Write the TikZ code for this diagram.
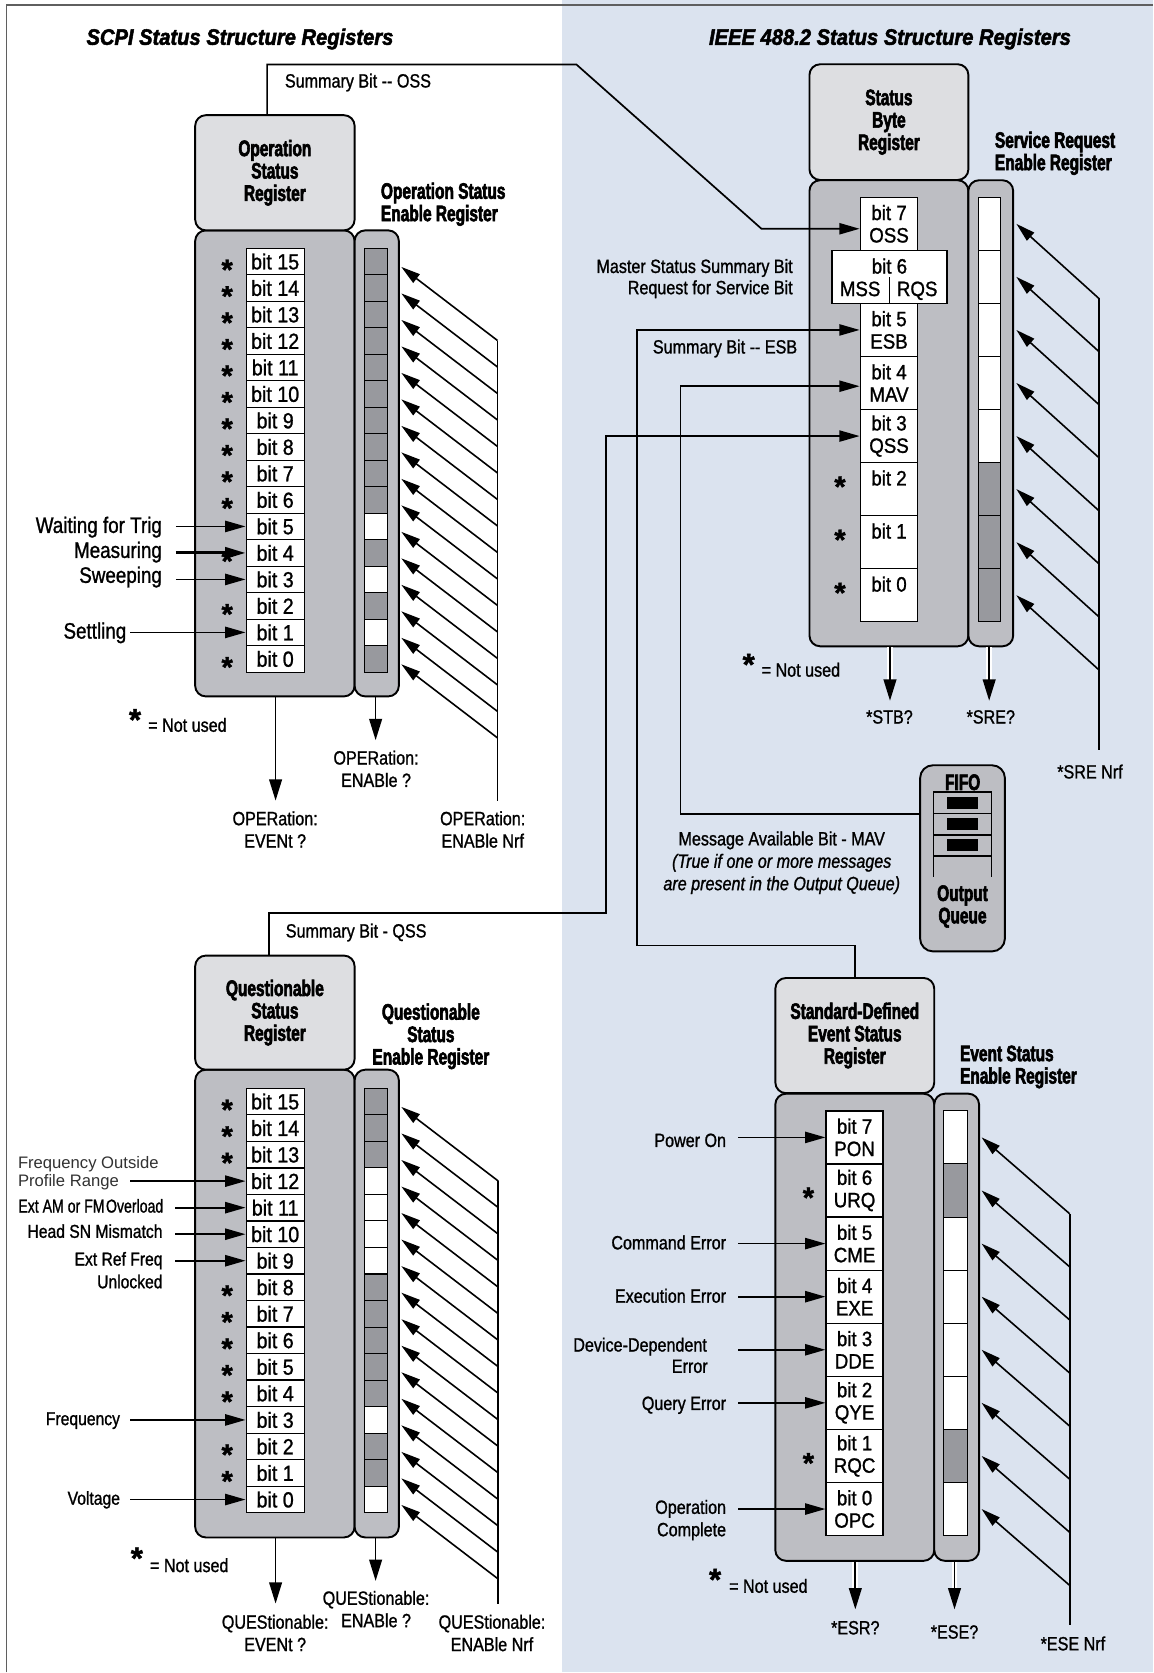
\documentclass[tikz,border=0pt]{standalone}
\usepackage{fontspec}
\usepackage{graphicx}
\setmainfont{Liberation Sans}
\newfontfamily\cndfont{Liberation Sans}[FakeStretch=0.84,FakeBold=1.1]
\newfontfamily\bitfnt{Liberation Sans}[FakeStretch=0.90,FakeBold=1.1]
\newfontfamily\hdrfont{Liberation Sans Bold}[FakeStretch=0.69,FakeBold=2.6]
\newfontfamily\ttlfont{Liberation Sans Bold Italic}[FakeStretch=0.90,FakeBold=2.2]
\newfontfamily\plainfnt{Liberation Sans}
\newfontfamily\starfnt{Liberation Sans Bold}[FakeBold=1.5]
\usetikzlibrary{arrows.meta,calc}
\definecolor{bgblue}{RGB}{219,227,239}
\definecolor{hdrgray}{RGB}{221,222,225}
\definecolor{bodygray}{RGB}{189,190,195}
\definecolor{cellgray}{RGB}{152,153,158}
\definecolor{framegray}{RGB}{95,95,95}
\definecolor{txtgray}{RGB}{50,50,50}
\newcommand\fntA{\cndfont\fontsize{21}{21}\selectfont}
\newcommand\fntB{\cndfont\fontsize{18}{21}\selectfont}
\newcommand\fntQ{\cndfont\fontsize{17.5}{21.3}\selectfont}
\newcommand\fntBitA{\bitfnt\fontsize{20.5}{21}\selectfont}
\newcommand\fntBitB{\bitfnt\fontsize{19.5}{21}\selectfont}
\newcommand\fntH{\hdrfont\fontsize{21}{21}\selectfont}
\newcommand\fntT{\ttlfont\fontsize{21}{21}\selectfont}
\newcommand\fntP{\plainfnt\fontsize{15.6}{17.3}\selectfont}
\newcommand\fntS{\starfnt\fontsize{27}{27}\selectfont}
\newcommand\fntSS{\starfnt\fontsize{29}{29}\selectfont}
\begin{document}
\begin{tikzpicture}[x=1pt,y=-1pt,
 ln/.style={line width=1.6pt},
 arr/.style={line width=1.6pt,-{Triangle[length=19pt,width=10.5pt]}},
 darr/.style={line width=1.5pt,-{Triangle[length=18pt,width=10pt]}},
 dnarr/.style={line width=1.6pt,-{Triangle[length=20pt,width=12pt]}},
 dnarrw/.style={dnarr,preaction={draw=white,line width=5.5pt,-,shorten >=14pt}},
 hdrbox/.style={draw,line width=1.8pt,fill=hdrgray,rounded corners=10pt,inner sep=0pt,font=\fntH,align=center},
 bodybox/.style={draw,line width=1.8pt,fill=bodygray,rounded corners=10pt,inner sep=0pt},
 bitA/.style={draw,line width=1.2pt,fill=white,inner sep=0pt,font=\fntBitA,text height=14.7pt,text depth=0pt,minimum width=54.4pt,minimum height=24.84pt},
 bitB/.style={draw,line width=1.2pt,fill=white,inner sep=0pt,font=\fntBitB,align=center,minimum width=54pt,minimum height=49.75pt},
 bitlbl/.style={inner sep=0pt,font=\fntBitB,text height=14pt,text depth=0pt},
 encell/.style={draw,line width=1pt,inner sep=0pt,minimum width=21.5pt},
 tA/.style={inner sep=0pt,font=\fntA,text height=15pt,text depth=0pt},
 tB/.style={inner sep=0pt,font=\fntB,text height=12.9pt,text depth=0pt},
 tQ/.style={inner sep=0pt,font=\fntQ,text height=12.5pt,text depth=0pt},
 mB/.style={inner sep=0pt,font=\fntB,align=center},
 mQ/.style={inner sep=0pt,font=\fntQ,align=right},
 mH/.style={inner sep=0pt,font=\fntH},
 ttl/.style={inner sep=0pt,font=\fntT,text height=15pt,text depth=0pt},
 starA/.style={inner sep=0pt,font=\fntS,yshift=-5.6pt},
 starB/.style={inner sep=0pt,font=\fntSS,yshift=-6pt},
]
% ---------- background ----------
\fill[white] (0,0) rectangle (1081,1568);
\fill[bgblue] (527,0) rectangle (1081,1568);
\draw[framegray,line width=1.4pt] (6.3,1568) -- (6.3,4.5) -- (1081,4.5);
\useasboundingbox (0,0) rectangle (1081,1568);

\node[ttl] (ttlL) at (225,34.5) {SCPI Status Structure Registers};
\node[ttl] (ttlR) at (834.5,34.5) {IEEE 488.2 Status Structure Registers};

% ================= OPERATION =================
\node[bodybox,minimum width=149.5pt,minimum height=437pt] (opBody) at (257.75,434.5) {};
\node[bodybox,minimum width=41.5pt,minimum height=437pt] (opEn) at (353.25,434.5) {};
\node[hdrbox,minimum width=149.5pt,minimum height=108pt] (opHdr) at (257.75,162) {Operation\\Status\\Register};
\node[mH,anchor=west,align=left] (opEnL) at (357,191.5) {Operation Status\\Enable Register};

\foreach \b in {0,...,15} {
  \pgfmathsetmacro\yc{232.8+(15.5-\b)*24.84}
  \node[bitA] (op\b) at (258,\yc) {bit \b};
}
\foreach \b/\c in {15/cellgray,14/cellgray,13/cellgray,12/cellgray,11/cellgray,10/cellgray,9/cellgray,8/cellgray,7/cellgray,6/cellgray,5/white,4/cellgray,3/white,2/cellgray,1/white,0/cellgray} {
  \pgfmathsetmacro\yc{232.8+(15.5-\b)*24.84}
  \node[encell,fill=\c,minimum height=24.84pt] (opE\b) at (352.5,\yc) {};
}
\foreach \b in {15,14,13,12,11,10,9,8,7,6,4,2,0} {
  \node[starA] (opS\b) at ($(op\b.center)+(-45,2)$) {*};
}
\foreach \b in {0,...,15} {
  \pgfmathsetmacro\yt{232.8+(15-\b)*24.84+17.5}
  \coordinate (opT\b) at (376.3,\yt);
  \coordinate (opD\b) at (466.5,\yt+69);
  \draw[darr] (opD\b) -- (opT\b);
}
\coordinate (opVb) at (466.5,750.7);
\draw[ln] (opD15) -- (opVb);
\node[mB] (opNrf) at (452.6,777.8) {OPERation:\\ENABle Nrf};

\coordinate (opEvt) at (258.4,750.7);
\draw[dnarr] (opEvt |- opBody.south) -- (opEvt);
\node[mB] (opEvtL) at (258,777.8) {OPERation:\\EVENt ?};
\coordinate (opEnq) at (352.2,694);
\draw[dnarr] (opEnq |- opEn.south) -- (opEnq);
\node[mB] (opEnqL) at (352.6,720.9) {OPERation:\\ENABle ?};

\node[starB] (opNUs) at (126.6,668.8) {*};
\node[tB,anchor=west] (opNU) at (138.8,679.7) {= Not used};

\coordinate (opxa) at (164.8,0);
\coordinate (opxc) at (122,0);
\node[tA,anchor=east] (wft) at (152,492.2) {Waiting for Trig};
\draw[arr] (opxa |- op5.west) -- (op5.west);
\node[tA,anchor=east] (meas) at (152,515.6) {Measuring};
\draw[arr,line width=2.8pt] (opxa |- op4.west) -- (op4.west);
\node[tA,anchor=east] (swp) at (152,539) {Sweeping};
\draw[arr] (opxa |- op3.west) -- (op3.west);
\node[tA,anchor=east] (sett) at (118.6,591.3) {Settling};
\draw[arr] (opxc |- op1.west) -- (op1.west);

% ================= QUESTIONABLE =================
\node[bodybox,minimum width=149.5pt,minimum height=438.6pt] (qBody) at (257.75,1222.3) {};
\node[bodybox,minimum width=41.5pt,minimum height=438.6pt] (qEn) at (353.25,1222.3) {};
\node[hdrbox,minimum width=149.5pt,minimum height=107pt] (qHdr) at (257.75,949.5) {Questionable\\Status\\Register};
\node[mH,align=center] (qEnL) at (404,971.7) {Questionable\\Status\\Enable Register};

\foreach \b in {0,...,15} {
  \pgfmathsetmacro\yc{1020.4+(15.5-\b)*24.88}
  \node[bitA,minimum height=24.88pt] (q\b) at (258,\yc) {bit \b};
}
\foreach \b/\c in {15/cellgray,14/cellgray,13/cellgray,12/white,11/white,10/white,9/white,8/cellgray,7/cellgray,6/cellgray,5/cellgray,4/cellgray,3/white,2/cellgray,1/cellgray,0/white} {
  \pgfmathsetmacro\yc{1020.4+(15.5-\b)*24.88}
  \node[encell,fill=\c,minimum height=24.88pt] (qE\b) at (352.5,\yc) {};
}
\foreach \b in {15,14,13,8,7,6,5,4,2,1} {
  \node[starA] (qS\b) at ($(q\b.center)+(-45,2)$) {*};
}
\foreach \b in {0,...,15} {
  \pgfmathsetmacro\yt{1020.4+(15-\b)*24.88+17.5}
  \coordinate (qT\b) at (376.3,\yt);
  \coordinate (qD\b) at (467.2,\yt+69.5);
  \draw[darr] (qD\b) -- (qT\b);
}
\coordinate (qVb) at (467.2,1503.6);
\draw[ln] (qD15) -- (qVb);
\node[mB] (qNrf) at (461.3,1531.2) {QUEStionable:\\ENABle Nrf};

\coordinate (qEvt) at (258.4,1503.6);
\draw[dnarr] (qEvt |- qBody.south) -- (qEvt);
\node[mB] (qEvtL) at (258,1531.2) {QUEStionable:\\EVENt ?};
\coordinate (qEnq) at (352.2,1482.3);
\draw[dnarr] (qEnq |- qEn.south) -- (qEnq);
\node[mB] (qEnqL) at (352.6,1508.8) {QUEStionable:\\ENABle ?};

\node[starB] (qNUs) at (128.3,1455) {*};
\node[tB,anchor=west] (qNU) at (140.5,1467.6) {= Not used};

\coordinate (qxa) at (164.5,0);
\coordinate (qxc) at (122,0);
\node[inner sep=0pt,font=\fntP,text=txtgray,align=left,anchor=west] (fop) at (16.7,1100.2) {Frequency Outside\\Profile Range};
\draw[arr] (qxc |- q12.west) -- (q12.west);
\node[tQ,anchor=east] (eam) at (153.3,1130.7) {\scalebox{0.9}[1]{Ext AM or FM\hspace{1.5pt}Overload}};
\draw[arr] (qxa |- q11.west) -- (q11.west);
\node[tQ,anchor=east] (hsn) at (152.6,1154.4) {Head SN Mismatch};
\draw[arr] (qxa |- q10.west) -- (q10.west);
\node[mQ,anchor=east] (erf) at (152.6,1191) {Ext Ref Freq\\Unlocked};
\draw[arr] (qxa |- q9.west) -- (q9.west);
\node[tQ,anchor=east] (frq) at (112.7,1330) {Frequency};
\draw[arr] (qxc |- q3.west) -- (q3.west);
\node[tQ,anchor=east] (vlt) at (112.7,1404.6) {Voltage};
\draw[arr] (qxc |- q0.west) -- (q0.west);

% ================= STATUS BYTE =================
\node[bodybox,minimum width=149pt,minimum height=437pt] (sbBody) at (833.5,387.5) {};
\node[bodybox,minimum width=42pt,minimum height=437pt] (sbEn) at (929,387.5) {};
\node[hdrbox,minimum width=149pt,minimum height=108.5pt] (sbHdr) at (833.5,114.5) {Status\\Byte\\Register};
\node[mH,anchor=west,align=left] (sbEnL) at (932.7,143.7) {Service Request\\Enable Register};

\foreach \b/\t in {7/OSS,5/ESB,4/MAV,3/QSS} {
  \pgfmathsetmacro\yc{185+(7.5-\b)*49.75}
  \node[bitB] (sb\b) at (833.6,\yc) {bit \b\\\t};
}
\foreach \b in {2,1,0} {
  \pgfmathsetmacro\yc{185+(7.5-\b)*49.75}
  \node[bitB] (sb\b) at (833.6,\yc) {bit \b\\\mbox{}};
}
\node[bitB,minimum width=108pt] (sb6) at (834,259.6) {};
\node[bitlbl] (sb6t) at (834,249.5) {bit 6};
\node[bitlbl] (sb6a) at (806.5,270.6) {MSS};
\node[bitlbl] (sb6b) at (860,270.6) {RQS};
\draw[line width=1.2pt] (sb6.south) -- ++(0,-25);

\foreach \b/\c in {7/white,6/white,5/white,4/white,3/white,2/cellgray,1/cellgray,0/cellgray} {
  \pgfmathsetmacro\yc{185+(7.5-\b)*49.75}
  \node[encell,fill=\c,minimum height=49.75pt] (sbE\b) at (927.8,\yc) {};
}
\foreach \b in {2,1,0} {
  \node[starA] (sbS\b) at ($(sb\b.north)+(-46,17.5)$) {*};
}
\foreach \b in {0,...,7} {
  \pgfmathsetmacro\yt{185+(7.5-\b)*49.75}
  \coordinate (sbT\b) at (953,\yt);
  \coordinate (sbD\b) at (1030.4,\yt+70);
  \draw[darr] (sbD\b) -- (sbT\b);
}
\coordinate (sbVb) at (1030.4,703);
\draw[ln] (sbD7) -- (sbVb);
\node[tB] (sreNrf) at (1022,723.5) {*SRE Nrf};

\coordinate (stbq) at (834.5,657);
\draw[dnarrw] (stbq |- sbBody.south) -- (stbq);
\node[tB] (stbL) at (834,672) {*STB?};
\coordinate (sreq) at (927.5,657);
\draw[dnarrw] (sreq |- sbEn.south) -- (sreq);
\node[tB] (sreL) at (929,672) {*SRE?};

\node[starB] (sbNUs) at (702,617) {*};
\node[tB,anchor=west] (sbNU) at (714,628) {= Not used};

\node[tB,anchor=east] (msb1) at (743.5,249.5) {Master Status Summary Bit};
\node[tB,anchor=east] (msb2) at (743.5,269.4) {Request for Service Bit};

% ================= FIFO =================
\node[draw,line width=1.8pt,fill=bodygray,rounded corners=12pt,inner sep=0pt,minimum width=79.5pt,minimum height=174.5pt] (fifo) at (902.5,804.8) {};
\node[mH] (fifoL) at (902.6,733.5) {FIFO};
\draw[line width=1.2pt] (875,822) -- (875,742.6) -- (930,742.6) -- (930,822);
\draw[line width=1.2pt] (875,762.5) -- (930,762.5) (875,783) -- (930,783) (875,802.6) -- (930,802.6);
\fill (888,747.5) rectangle (916.6,758.5);
\fill (888,767.3) rectangle (916.6,778.3);
\fill (888,787) rectangle (916.6,798);
\node[mH,align=center] (oq) at (902.5,850) {Output\\Queue};

\node[mB] (mavL) at (733,809) {Message Available Bit - MAV\\\textit{(True if one or more messages}\\\textit{are present in the Output Queue)}};

% ================= STANDARD EVENT =================
\node[bodybox,minimum width=149pt,minimum height=438pt] (sdBody) at (801.5,1244.5) {};
\node[bodybox,minimum width=42pt,minimum height=438pt] (sdEn) at (897,1244.5) {};
\node[hdrbox,minimum width=149pt,minimum height=108pt] (sdHdr) at (801.5,971) {Standard-Defined\\Event Status\\Register};
\node[mH,anchor=west,align=left] (sdEnL) at (900,1000.4) {Event Status\\Enable Register};

\foreach \b/\t in {7/PON,6/URQ,5/CME,4/EXE,3/DDE,2/QYE,1/RQC,0/OPC} {
  \pgfmathsetmacro\yc{1041.6+(7.5-\b)*49.78}
  \node[bitB,minimum width=53.5pt,minimum height=49.78pt] (sd\b) at (801.3,\yc) {bit \b\\\t};
}
\foreach \b/\c in {7/white,6/cellgray,5/white,4/white,3/white,2/white,1/cellgray,0/white} {
  \pgfmathsetmacro\yc{1041.6+(7.5-\b)*49.78}
  \node[encell,fill=\c,minimum width=22pt,minimum height=49.78pt] (sdE\b) at (896,\yc) {};
}
\foreach \b in {6,1} {
  \node[starA] (sdS\b) at ($(sd\b.center)+(-43.3,1)$) {*};
}
\foreach \b in {0,...,7} {
  \pgfmathsetmacro\yt{1041.6+(7.5-\b)*49.78}
  \coordinate (sdT\b) at (920.4,\yt);
  \coordinate (sdD\b) at (1003,\yt+71.6);
  \draw[darr] (sdD\b) -- (sdT\b);
}
\coordinate (sdVb) at (1003,1524);
\draw[ln] (sdD7) -- (sdVb);
\node[tB] (eseNrf) at (1006,1541) {*ESE Nrf};

\coordinate (esrq) at (802,1509);
\draw[dnarrw] (esrq |- sdBody.south) -- (esrq);
\node[tB] (esrL) at (802,1526) {*ESR?};
\coordinate (eseq) at (895,1509);
\draw[dnarrw] (eseq |- sdEn.south) -- (eseq);
\node[tB] (eseL) at (895,1530) {*ESE?};

\node[starB] (sdNUs) at (670.5,1475) {*};
\node[tB,anchor=west] (sdNU) at (683.5,1487) {= Not used};

\coordinate (sdxa) at (692,0);
\node[tB,anchor=east] (pon) at (681,1069) {Power On};
\draw[arr] (sdxa |- sd7.west) -- (sd7.west);
\node[tB,anchor=east] (cme) at (681,1165) {Command Error};
\draw[arr] (sdxa |- sd5.west) -- (sd5.west);
\node[tB,anchor=east] (exe) at (681,1215) {Execution Error};
\draw[arr] (sdxa |- sd4.west) -- (sd4.west);
\node[tB,anchor=east] (dde1) at (663,1260.8) {Device-Dependent};
\node[tB,anchor=east] (dde2) at (663.8,1280.8) {Error};
\draw[arr] (sdxa |- sd3.west) -- (sd3.west);
\node[tB,anchor=east] (qye) at (681,1315.6) {Query Error};
\draw[arr] (sdxa |- sd2.west) -- (sd2.west);
\node[tB,anchor=east] (opc1) at (681,1413) {Operation};
\node[tB,anchor=east] (opc2) at (681,1434) {Complete};
\draw[arr] (sdxa |- sd0.west) -- (sd0.west);

% ================= SUMMARY CONNECTORS =================
\coordinate (ossA) at (540.5,60.5);
\coordinate (ossB) at (714,214.5);
\draw[arr] ($(opHdr.north)+(-7.3,0)$) |- (ossA) -- (ossB) -- (ossB -| sb7.west);
\node[tB,anchor=west] (ossL) at (267,75.6) {Summary Bit {-}{-} OSS};

\coordinate (qssA) at (568.4,856.3);
\draw[arr] ($(qHdr.north)+(-5.8,0)$) |- (qssA) |- (sb3.west);
\node[tB,anchor=west] (qssL) at (267.8,872.6) {Summary Bit - QSS};

\coordinate (esbA) at (597,886.5);
\draw[arr] (sdHdr.north) |- (esbA) |- (sb5.west);
\node[tB,anchor=west] (esbL) at (612,325) {Summary Bit {-}{-} ESB};

\coordinate (mavA) at (638,763.5);
\draw[arr] (mavA -| fifo.west) -- (mavA) |- ([yshift=-3pt]sb4.west);
\end{tikzpicture}
\end{document}
